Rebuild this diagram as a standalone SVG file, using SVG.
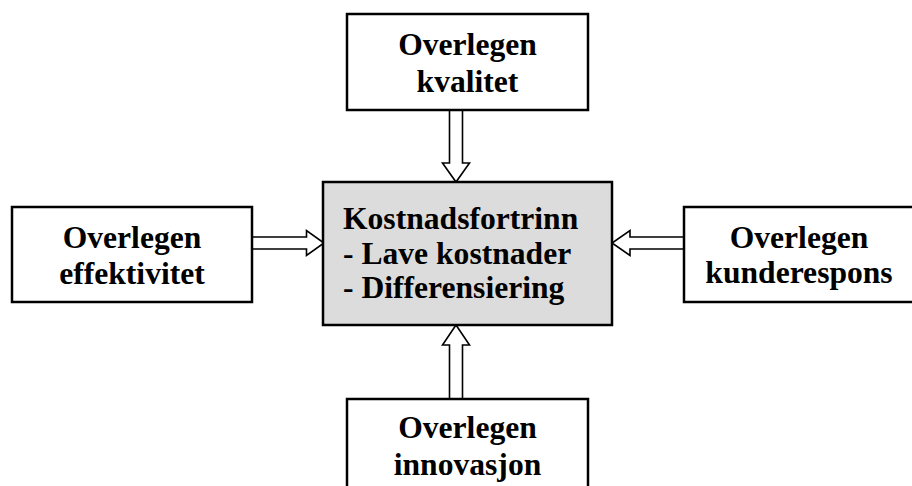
<svg xmlns="http://www.w3.org/2000/svg" width="912" height="486" viewBox="0 0 912 486">
  <style>
    .box { fill: #ffffff; stroke: #000000; stroke-width: 2.5; }
    .core { fill: #dcdcdc; stroke: #000000; stroke-width: 2.5; }
    .lbl { font-family: "Liberation Serif", "Times New Roman", serif; font-weight: bold; font-size: 31.6px; fill: #000000; }
    .mid { text-anchor: middle; }
    .arrow { fill: #ffffff; stroke: #000000; stroke-width: 1.6; stroke-linejoin: miter; }
  </style>
  <rect width="912" height="486" fill="#ffffff"/>

  <!-- Block arrows pointing into the central box -->
  <g id="connectors">
    <!-- from top -->
    <polygon class="arrow" points="449.5,110 462.5,110 462.5,163 469.5,163 456,182 442.5,163 449.5,163"/>
    <!-- from bottom -->
    <polygon class="arrow" points="449.5,399 462.5,399 462.5,345 469.5,345 456,325 442.5,345 449.5,345"/>
    <!-- from left -->
    <polygon class="arrow" points="252,237 306.5,237 306.5,230.5 324,243 306.5,255.5 306.5,249 252,249"/>
    <!-- from right -->
    <polygon class="arrow" points="684,237 630,237 630,230.5 612,243 630,255.5 630,249 684,249"/>
  </g>

  <g id="kostnadsfortrinn">
    <rect class="core" x="323" y="182" width="289" height="143"/>
    <text class="lbl" x="343" y="229">Kostnadsfortrinn</text>
    <text class="lbl" x="343" y="264">- Lave kostnader</text>
    <text class="lbl" x="343" y="298">- Differensiering</text>
  </g>

  <g id="kvalitet">
    <rect class="box" x="347" y="14" width="241" height="96"/>
    <text class="lbl mid" x="467.5" y="55">Overlegen</text>
    <text class="lbl mid" x="467.5" y="92">kvalitet</text>
  </g>

  <g id="effektivitet">
    <rect class="box" x="12" y="207" width="240" height="95"/>
    <text class="lbl mid" x="132" y="248">Overlegen</text>
    <text class="lbl mid" x="132" y="284">effektivitet</text>
  </g>

  <g id="kunderespons">
    <rect class="box" x="684" y="207" width="232" height="95"/>
    <text class="lbl mid" x="799" y="248">Overlegen</text>
    <text class="lbl mid" x="799" y="283">kunderespons</text>
  </g>

  <g id="innovasjon">
    <rect class="box" x="347" y="399" width="241" height="100"/>
    <text class="lbl mid" x="467.5" y="438">Overlegen</text>
    <text class="lbl mid" x="467.5" y="475">innovasjon</text>
  </g>
</svg>
